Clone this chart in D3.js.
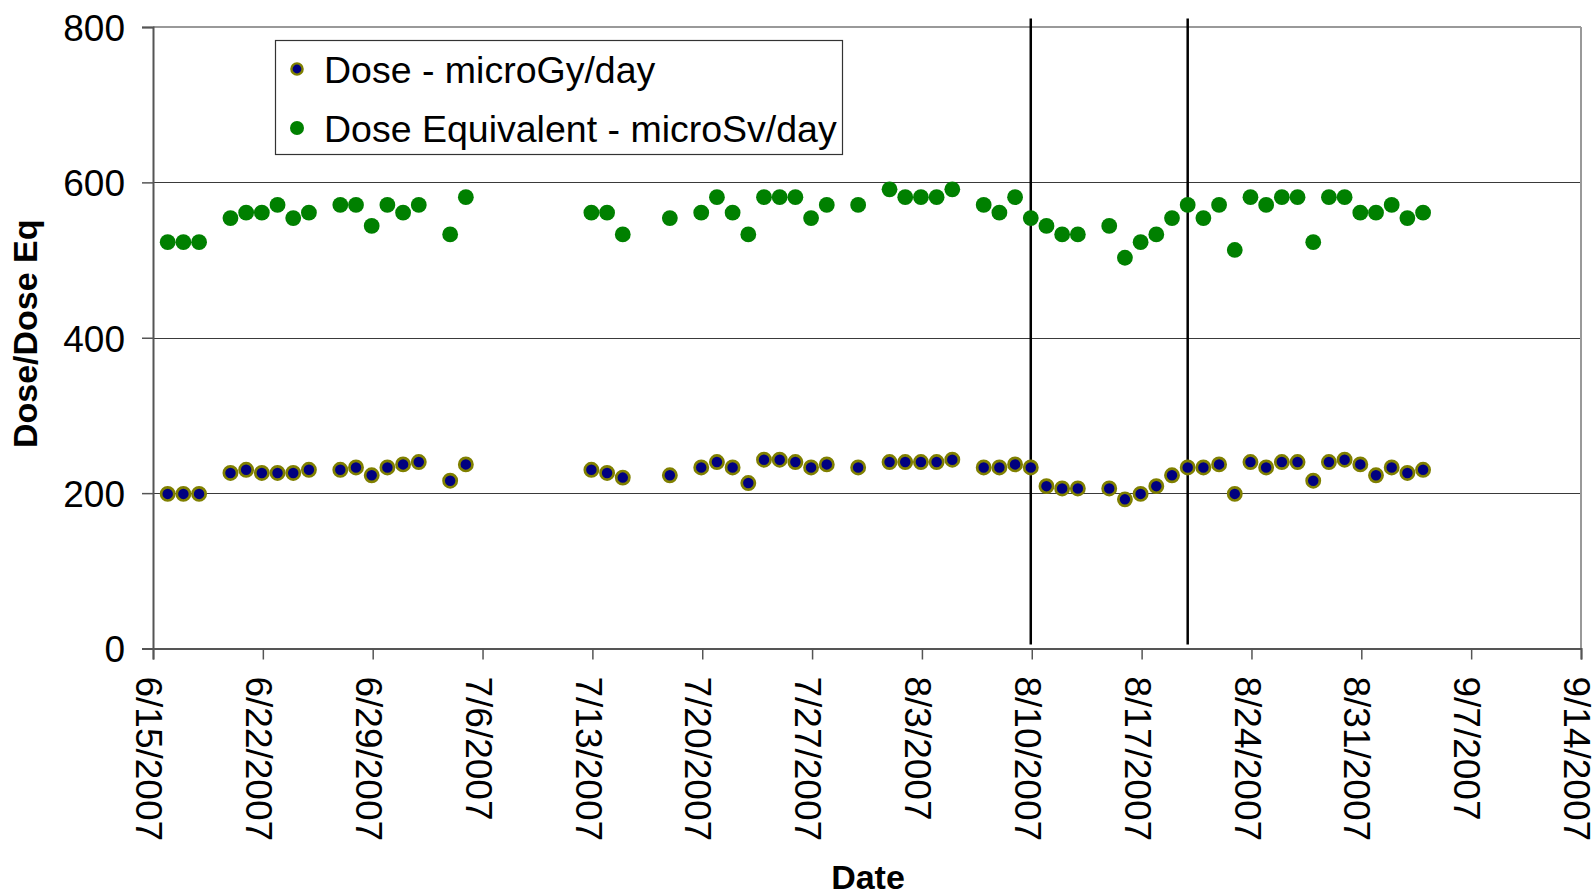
<!DOCTYPE html>
<html>
<head>
<meta charset="utf-8">
<script src="https://cdn.jsdelivr.net/npm/d3@7/dist/d3.min.js"></script>
<style>
  html, body { margin: 0; padding: 0; background: #fff; }
  svg { display: block; font-family: Arial, "Liberation Sans", sans-serif; }
</style>
</head>
<body>
<svg id="chart" width="1596" height="896"></svg>
<script>
// ---- data ----
const dates = [
  "2007-06-16","2007-06-17","2007-06-18","2007-06-20","2007-06-21","2007-06-22","2007-06-23","2007-06-24","2007-06-25",
  "2007-06-27","2007-06-28","2007-06-29","2007-06-30","2007-07-01","2007-07-02","2007-07-04","2007-07-05",
  "2007-07-13","2007-07-14","2007-07-15","2007-07-18","2007-07-20","2007-07-21","2007-07-22","2007-07-23",
  "2007-07-24","2007-07-25","2007-07-26","2007-07-27","2007-07-28",
  "2007-07-30","2007-08-01","2007-08-02","2007-08-03","2007-08-04","2007-08-05","2007-08-07","2007-08-08","2007-08-09",
  "2007-08-10","2007-08-11","2007-08-12","2007-08-13","2007-08-15","2007-08-16","2007-08-17","2007-08-18","2007-08-19",
  "2007-08-20","2007-08-21","2007-08-22","2007-08-23","2007-08-24","2007-08-25","2007-08-26","2007-08-27","2007-08-28",
  "2007-08-29","2007-08-30","2007-08-31","2007-09-01","2007-09-02","2007-09-03","2007-09-04"
];
const doseValues = [
  199,199,199,226,230,226,226,226,230,
  230,233,223,233,237,240,216,237,
  230,226,220,223,233,240,233,213,
  243,243,240,233,237,
  233,240,240,240,240,243,233,233,237,
  233,209,206,206,206,192,199,209,223,
  233,233,237,199,240,233,240,240,216,
  240,243,237,223,233,226,230
];
const doseEqValues = [
  523,523,523,554,561,561,571,554,561,
  571,571,544,571,561,571,533,581,
  561,561,533,554,561,581,561,533,
  581,581,581,554,571,
  571,591,581,581,581,591,571,561,581,
  554,544,533,533,544,503,523,533,554,
  571,554,571,513,581,571,581,581,523,
  581,581,561,561,571,554,561
];
const seriesNames = ["Dose - microGy/day", "Dose Equivalent - microSv/day"];
const xTickDates = ["2007-06-15","2007-06-22","2007-06-29","2007-07-06","2007-07-13","2007-07-20","2007-07-27",
  "2007-08-03","2007-08-10","2007-08-17","2007-08-24","2007-08-31","2007-09-07","2007-09-14"];
const xTickLabels = ["6/15/2007","6/22/2007","6/29/2007","7/6/2007","7/13/2007","7/20/2007","7/27/2007",
  "8/3/2007","8/10/2007","8/17/2007","8/24/2007","8/31/2007","9/7/2007","9/14/2007"];
const yTicks = [0, 200, 400, 600, 800];
const markerDates = ["2007-08-10", "2007-08-20"];
const markerRange = [5, 811];
const xDomain = ["2007-06-15", "2007-09-14"];
const yDomain = [0, 800];

// ---- layout ----
const parse = d3.utcParse("%Y-%m-%d");
const svg = d3.select("#chart");
const L = 153, R = 1581, T = 27, B = 648.5;
const x = d3.scaleUtc().domain(xDomain.map(parse)).range([L, R]);
const y = d3.scaleLinear().domain(yDomain).range([B, T]);
const fontSize = 37;

// gridlines
svg.append("g").selectAll("line").data(yTicks.filter(v => v > 0 && v < 800)).join("line")
  .attr("x1", L).attr("x2", R)
  .attr("y1", d => Math.round(y(d)) + 0.5).attr("y2", d => Math.round(y(d)) + 0.5)
  .attr("stroke", "#3a3a3a").attr("stroke-width", 1.2);

// plot frame: top and right gray
svg.append("line").attr("x1", L).attr("x2", R).attr("y1", y(800)).attr("y2", y(800))
  .attr("stroke", "#999").attr("stroke-width", 2);
svg.append("line").attr("x1", R).attr("x2", R).attr("y1", T).attr("y2", B)
  .attr("stroke", "#999").attr("stroke-width", 2);

// y axis
const yAxis = d3.axisLeft(y).tickValues(yTicks).tickSize(11).tickPadding(17).tickFormat(d3.format("d"));
const gy = svg.append("g").attr("transform", `translate(${L},0)`).call(yAxis);
gy.select(".domain").attr("stroke", "#555").attr("stroke-width", 2);
gy.selectAll(".tick line").attr("stroke", "#555").attr("stroke-width", 1.5);
gy.selectAll(".tick text").attr("font-size", fontSize).attr("fill", "#000")
  .attr("font-family", "Arial, 'Liberation Sans', sans-serif").attr("dy", "0.36em");

// x axis
const xAxis = d3.axisBottom(x).tickValues(xTickDates.map(parse)).tickSize(11)
  .tickFormat((d, i) => xTickLabels[i]);
const gx = svg.append("g").attr("transform", `translate(0,${B})`).call(xAxis);
gx.select(".domain").attr("stroke", "#555").attr("stroke-width", 2);
gx.selectAll(".tick line").attr("stroke", "#555").attr("stroke-width", 1.5);
gx.selectAll(".tick text")
  .attr("font-size", fontSize).attr("fill", "#000")
  .attr("font-family", "Arial, 'Liberation Sans', sans-serif")
  .attr("text-anchor", "start")
  .attr("transform", "translate(-4,28) rotate(90)")
  .attr("x", 0).attr("y", 0).attr("dy", "0.36em");

// vertical marker lines
svg.append("g").selectAll("line").data(markerDates).join("line")
  .attr("x1", d => x(parse(d)) - 1).attr("x2", d => x(parse(d)) - 1)
  .attr("y1", y(markerRange[1])).attr("y2", y(markerRange[0]))
  .attr("stroke", "#000").attr("stroke-width", 2.5);

// points
const doseData = dates.map((d, i) => ({ date: parse(d), v: doseValues[i] }));
const eqData = dates.map((d, i) => ({ date: parse(d), v: doseEqValues[i] }));

svg.append("g").selectAll("circle").data(eqData).join("circle")
  .attr("cx", d => x(d.date) - 1).attr("cy", d => y(d.v)).attr("r", 7.9)
  .attr("fill", "#008000");

svg.append("g").selectAll("circle").data(doseData).join("circle")
  .attr("cx", d => x(d.date) - 1).attr("cy", d => y(d.v)).attr("r", 6.6)
  .attr("fill", "#000080").attr("stroke", "#808000").attr("stroke-width", 2.7);

// legend
const lg = svg.append("g");
lg.append("rect").attr("x", 275.5).attr("y", 40.5).attr("width", 567).attr("height", 114)
  .attr("fill", "#fff").attr("stroke", "#333").attr("stroke-width", 1.2);
lg.append("circle").attr("cx", 297).attr("cy", 69).attr("r", 5.6)
  .attr("fill", "#000080").attr("stroke", "#808000").attr("stroke-width", 2.4);
lg.append("circle").attr("cx", 297).attr("cy", 128).attr("r", 7).attr("fill", "#008000");
lg.append("text").attr("x", 324).attr("y", 69).attr("dy", "0.36em")
  .attr("font-size", 37.5).attr("fill", "#000").text(seriesNames[0]);
lg.append("text").attr("x", 324).attr("y", 128).attr("dy", "0.36em")
  .attr("font-size", 37.5).attr("fill", "#000").text(seriesNames[1]);

// axis titles
svg.append("text").attr("transform", `translate(37,${(T + B) / 2 - 4}) rotate(-90)`)
  .attr("text-anchor", "middle").attr("font-size", 34).attr("font-weight", "bold")
  .attr("fill", "#000").text("Dose/Dose Eq");
svg.append("text").attr("x", (L + R) / 2 + 1).attr("y", 889)
  .attr("text-anchor", "middle").attr("font-size", 34).attr("font-weight", "bold")
  .attr("fill", "#000").text("Date");
</script>
</body>
</html>
